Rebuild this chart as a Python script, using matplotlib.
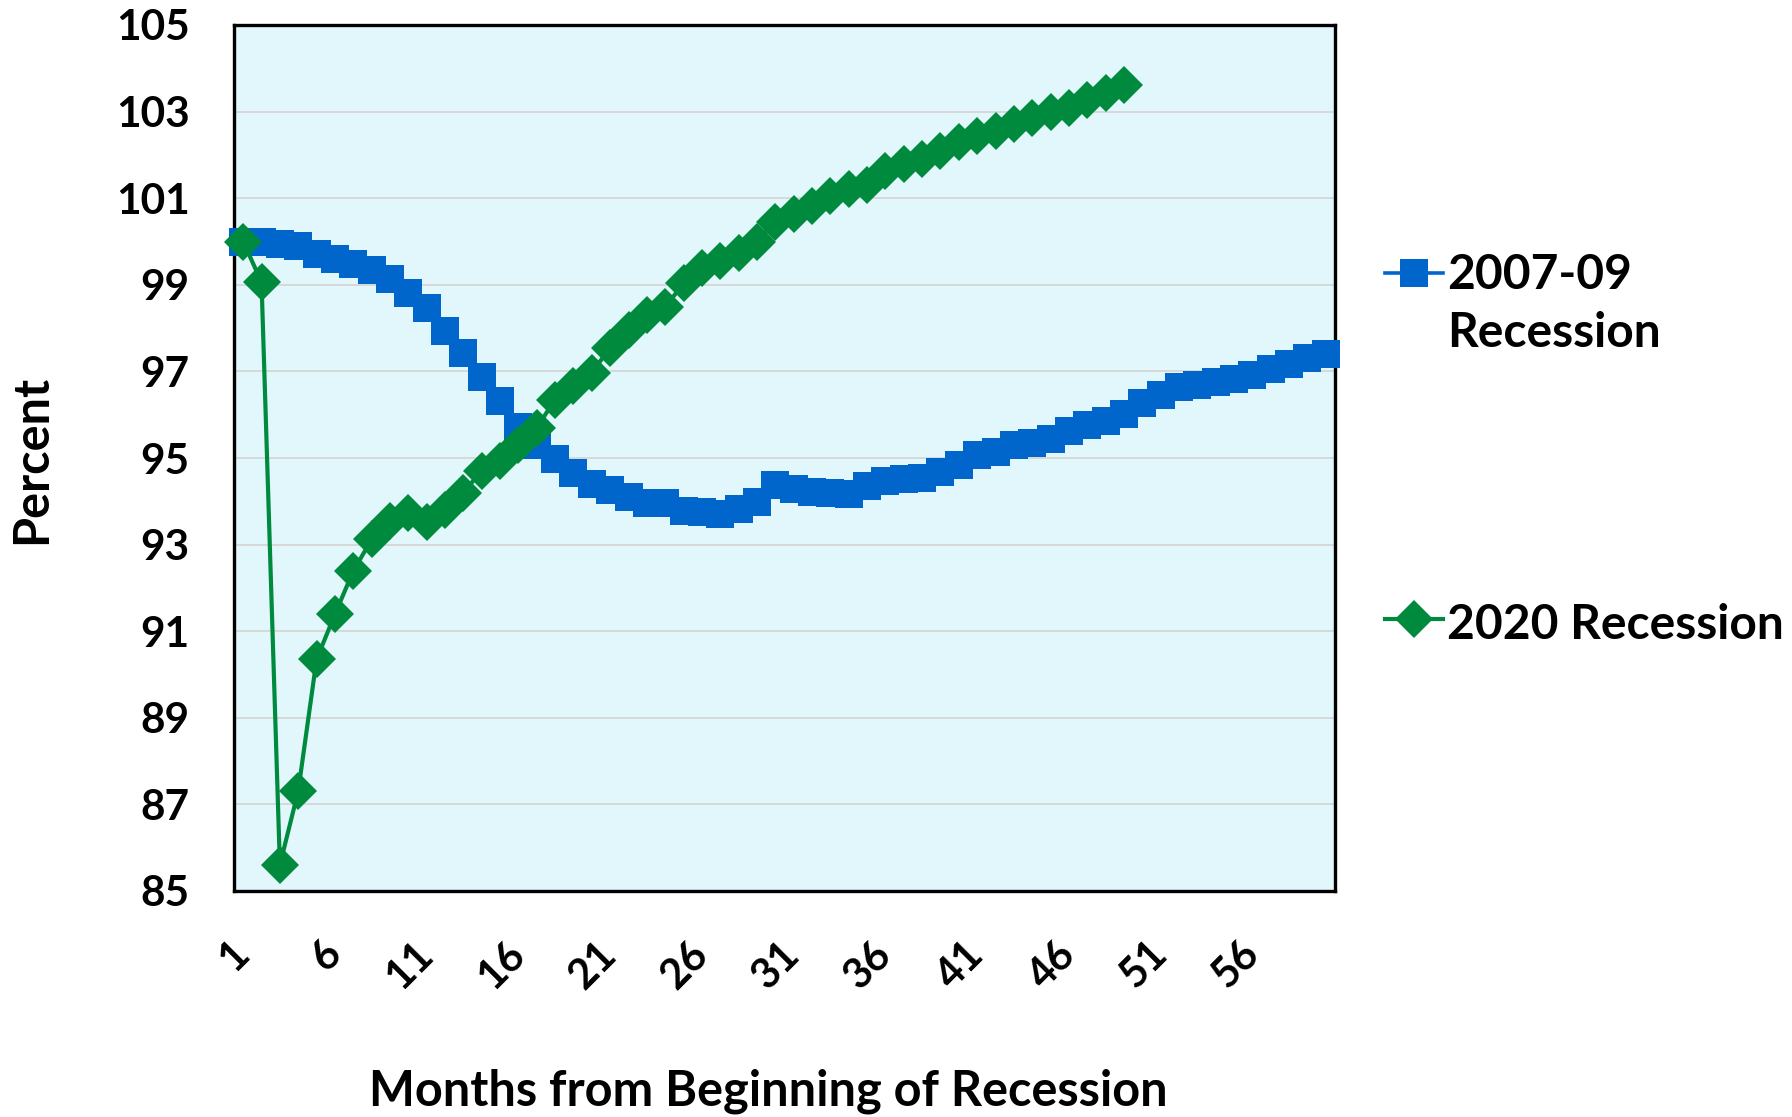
import numpy as np
from matplotlib import pyplot as plt

# values (index = 100 at month 1)
recession_0709 = [100.0, 100.0, 99.95, 99.9, 99.72, 99.59, 99.47, 99.34, 99.13, 98.81,
                  98.47, 97.94, 97.43, 96.86, 96.31, 95.72, 95.3, 94.98, 94.65, 94.4,
                  94.27, 94.09, 93.97, 93.97, 93.78, 93.76, 93.71, 93.82, 93.99, 94.38,
                  94.28, 94.22, 94.2, 94.17, 94.36, 94.47, 94.52, 94.53, 94.68, 94.84,
                  95.07, 95.15, 95.3, 95.35, 95.45, 95.62, 95.76, 95.86, 96.01, 96.26,
                  96.45, 96.63, 96.68, 96.76, 96.82, 96.91, 97.05, 97.18, 97.3, 97.41]
recession_2020 = [100.0, 99.06, 85.6, 87.31, 90.35, 91.39, 92.39, 93.12, 93.54, 93.72,
                  93.53, 93.81, 94.2, 94.71, 94.93, 95.3, 95.7, 96.35, 96.66, 96.97,
                  97.55, 97.96, 98.31, 98.48, 99.04, 99.38, 99.55, 99.74, 100.0, 100.46,
                  100.64, 100.81, 101.04, 101.22, 101.31, 101.62, 101.79, 101.91, 102.08, 102.29,
                  102.44, 102.56, 102.71, 102.86, 102.98, 103.09, 103.27, 103.44, 103.62]
months = np.arange(1, 61)
month_ticks = np.arange(1, 57, 5)
pct_ticks = np.arange(85, 106, 2)

plt.rcParams['font.family'] = ['Lato', 'DejaVu Sans']
plt.rcParams['font.weight'] = 'bold'

fig = plt.figure(figsize=(17.92, 11.17), dpi=100)
ax = fig.add_axes([234 / 1792, 1 - 891 / 1117, 1101 / 1792, 866 / 1117])
ax.set_facecolor('#E1F7FB')

ax.plot(months[:len(recession_0709)], recession_0709, "-", color="#0066CC", lw=2.6,
        marker="s", markersize=20, markeredgewidth=0, label="2007-09\nRecession",
        clip_on=False, zorder=3)
ax.plot(months[:len(recession_2020)], recession_2020, "-", color="#008A3E", lw=3,
        marker="D", markersize=19, markeredgewidth=0, label="2020 Recession",
        clip_on=False, zorder=4)

ax.set_xlim(0.5, 60.5)
ax.set_ylim(85, 105)
ax.set_xticks(month_ticks)
ax.set_yticks(pct_ticks)
ax.grid(axis='y', color='#D6D6D6', lw=1.3)
ax.set_axisbelow(True)
for s in ax.spines.values():
    s.set_color('black')
    s.set_linewidth(2.4)

ax.tick_params(axis='y', length=0, pad=32, labelsize=30.5)
ax.tick_params(axis='x', length=0, pad=41, labelsize=30)
for lbl in ax.get_xticklabels():
    lbl.set_rotation(45)
    lbl.set_ha('right')
    lbl.set_va('center')
    lbl.set_rotation_mode('anchor')

fig.text(32 / 1792, 1 - 459 / 1117, "Percent", rotation=90, ha='center', va='center',
         fontsize=35, fontweight='bold')
fig.text(768 / 1792, 1 - 1091 / 1117, "Months from Beginning of Recession",
         ha='center', va='center', fontsize=35, fontweight='bold')

leg = ax.legend(loc='upper left', bbox_to_anchor=(1385 / 1792, 1 - 253 / 1117),
                bbox_transform=fig.transFigure, frameon=False, borderpad=0,
                borderaxespad=0, handlelength=1.2, handleheight=1.1,
                handletextpad=0.1, labelspacing=5.1,
                prop={'size': 34.5, 'weight': 'bold'})
for t in leg.get_texts():
    t.set_linespacing(1.4)
# keep the first handle level with the first line of its two-line label
leg._legend_handle_box.get_children()[0].get_children()[0].align = 'top'

fig.savefig("out.png", dpi=100)
